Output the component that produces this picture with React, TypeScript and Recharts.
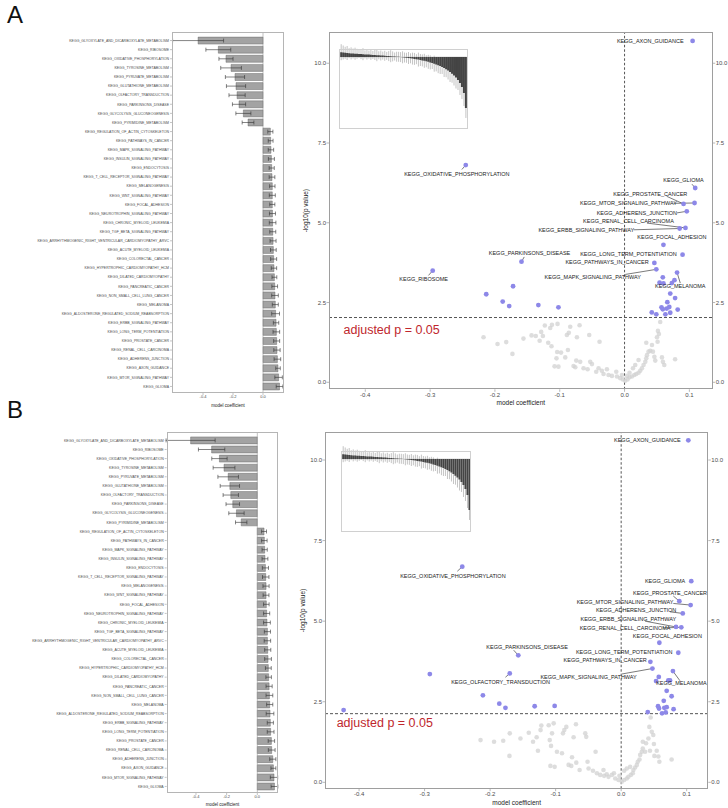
import React from "react";
import { BarChart, Bar, XAxis, YAxis, ErrorBar, ReferenceLine, ScatterChart, Scatter } from "recharts";

const FONT = "'Liberation Sans', Arial, Helvetica, sans-serif";

// pathways shown in the coefficient bar charts (top to bottom)
const pathways = [
  "KEGG_GLYOXYLATE_AND_DICARBOXYLATE_METABOLISM",
  "KEGG_RIBOSOME",
  "KEGG_OXIDATIVE_PHOSPHORYLATION",
  "KEGG_TYROSINE_METABOLISM",
  "KEGG_PYRUVATE_METABOLISM",
  "KEGG_GLUTATHIONE_METABOLISM",
  "KEGG_OLFACTORY_TRANSDUCTION",
  "KEGG_PARKINSONS_DISEASE",
  "KEGG_GLYCOLYSIS_GLUCONEOGENESIS",
  "KEGG_PYRIMIDINE_METABOLISM",
  "KEGG_REGULATION_OF_ACTIN_CYTOSKELETON",
  "KEGG_PATHWAYS_IN_CANCER",
  "KEGG_MAPK_SIGNALING_PATHWAY",
  "KEGG_INSULIN_SIGNALING_PATHWAY",
  "KEGG_ENDOCYTOSIS",
  "KEGG_T_CELL_RECEPTOR_SIGNALING_PATHWAY",
  "KEGG_MELANOGENESIS",
  "KEGG_WNT_SIGNALING_PATHWAY",
  "KEGG_FOCAL_ADHESION",
  "KEGG_NEUROTROPHIN_SIGNALING_PATHWAY",
  "KEGG_CHRONIC_MYELOID_LEUKEMIA",
  "KEGG_TGF_BETA_SIGNALING_PATHWAY",
  "KEGG_ARRHYTHMOGENIC_RIGHT_VENTRICULAR_CARDIOMYOPATHY_ARVC",
  "KEGG_ACUTE_MYELOID_LEUKEMIA",
  "KEGG_COLORECTAL_CANCER",
  "KEGG_HYPERTROPHIC_CARDIOMYOPATHY_HCM",
  "KEGG_DILATED_CARDIOMYOPATHY",
  "KEGG_PANCREATIC_CANCER",
  "KEGG_NON_SMALL_CELL_LUNG_CANCER",
  "KEGG_MELANOMA",
  "KEGG_ALDOSTERONE_REGULATED_SODIUM_REABSORPTION",
  "KEGG_ERBB_SIGNALING_PATHWAY",
  "KEGG_LONG_TERM_POTENTIATION",
  "KEGG_PROSTATE_CANCER",
  "KEGG_RENAL_CELL_CARCINOMA",
  "KEGG_ADHERENS_JUNCTION",
  "KEGG_AXON_GUIDANCE",
  "KEGG_MTOR_SIGNALING_PATHWAY",
  "KEGG_GLIOMA",
];

const coefA = [
  -0.433, -0.298, -0.247, -0.213, -0.187, -0.18, -0.173, -0.16, -0.131, -0.1,
  0.049, 0.051, 0.053, 0.056, 0.058, 0.06, 0.062, 0.062, 0.062, 0.063,
  0.064, 0.065, 0.067, 0.069, 0.071, 0.073, 0.076, 0.078, 0.08, 0.082,
  0.084, 0.087, 0.089, 0.091, 0.093, 0.096, 0.1, 0.104, 0.11,
];
const errA = [
  0.17, 0.083, 0.047, 0.069, 0.064, 0.064, 0.054, 0.044, 0.05, 0.039,
  0.017, 0.016, 0.018, 0.02, 0.017, 0.019, 0.018, 0.02, 0.017, 0.02,
  0.022, 0.02, 0.02, 0.019, 0.02, 0.018, 0.016, 0.019, 0.022, 0.02,
  0.026, 0.018, 0.022, 0.02, 0.021, 0.022, 0.015, 0.025, 0.022,
];
const coefB = [
  -0.435, -0.298, -0.247, -0.217, -0.19, -0.179, -0.173, -0.16, -0.136, -0.105,
  0.044, 0.046, 0.048, 0.05, 0.053, 0.055, 0.057, 0.057, 0.059, 0.061,
  0.063, 0.066, 0.066, 0.068, 0.07, 0.072, 0.074, 0.077, 0.079, 0.081,
  0.083, 0.085, 0.087, 0.092, 0.094, 0.101, 0.105, 0.109, 0.112,
];
const errB = [
  0.16, 0.086, 0.05, 0.071, 0.067, 0.063, 0.05, 0.044, 0.05, 0.037,
  0.016, 0.018, 0.017, 0.019, 0.02, 0.021, 0.02, 0.019, 0.018, 0.02,
  0.022, 0.02, 0.021, 0.02, 0.022, 0.019, 0.018, 0.02, 0.022, 0.02,
  0.025, 0.02, 0.022, 0.021, 0.022, 0.02, 0.016, 0.024, 0.022,
];

// inset: all pathways sorted (arbitrary units)
const insetCoef = [
  4.8, 4.5, 4.2, 4.0, 3.8, 3.6, 3.5, 3.3, 3.2, 3.0, 2.9, 2.8, 2.6, 2.5, 2.4, 2.2,
  2.1, 2.0, 1.8, 1.7, 1.5, 1.4, 1.2, 1.1, 0.9, 0.8, 0.6, 0.5, 0.3, 0.2, -0.1, -0.3,
  -0.5, -0.8, -1.0, -1.3, -1.6, -1.9, -2.2, -2.6, -3.0, -3.4, -3.8, -4.3, -4.8, -5.4,
  -6.0, -6.7, -7.4, -8.2, -9.0, -10.0, -11.0, -12.2, -13.5, -15.0, -16.7, -18.5,
  -20.5, -23.0, -26.0, -30.0, -36.0, -51.0,
];
const insetErr = [
  8, 7, 6, 7, 5, 6, 5, 6, 5, 4, 5, 6, 4, 5, 4, 5, 4, 5, 6, 4, 5, 4, 5, 4, 5, 6, 5, 4, 5, 5, 5, 6,
  5, 5, 6, 5, 6, 6, 5, 7, 6, 6, 7, 6, 7, 7, 6, 8, 7, 8, 8, 7, 9, 8, 9, 10, 9, 10, 11, 10, 12, 12,
  13, 10,
];

// volcano points [coefficient, -log10 p]
const blueA = [
  [0.105, 10.7], [-0.245, 6.81], [0.109, 6.09], [0.108, 5.62], [0.091, 5.59], [0.096, 5.36],
  [0.094, 4.84], [0.085, 4.82], [0.06, 4.31], [0.0895, 4.0], [0.046, 3.74], [0.049, 3.54],
  [0.081, 3.44], [0.059, 3.29], [0.054, 3.12], [0.06, 3.1], [0.073, 3.11], [0.077, 3.2],
  [0.0705, 2.78], [0.078, 2.64], [0.066, 2.51], [0.057, 2.35], [0.059, 2.29], [0.065, 2.31],
  [0.069, 2.36], [0.063, 2.13], [0.0705, 2.18], [0.082, 2.28], [0.042, 2.19], [0.049, 2.13],
  [-0.159, 3.78], [-0.296, 3.5], [-0.2134, 2.76], [-0.172, 3.01], [-0.188, 2.53], [-0.178, 2.39],
  [-0.133, 2.42], [-0.102, 2.35],
];
const grayA = [
  [-0.2176, 1.41], [-0.196, 1.2], [-0.1826, 1.26], [-0.173, 0.89], [-0.156, 1.37], [-0.1435, 1.47],
  [-0.137, 1.45], [-0.131, 1.3], [-0.1286, 1.58], [-0.123, 1.78], [-0.126, 1.45], [-0.1147, 1.7],
  [-0.112, 1.8], [-0.1034, 1.83], [-0.1178, 1.24], [-0.1127, 1.13], [-0.105, 0.75], [-0.104, 0.95],
  [-0.108, 0.5], [-0.102, 0.49], [-0.098, 0.93], [-0.0915, 0.78], [-0.089, 1.48], [-0.086, 1.55],
  [-0.0838, 1.74], [-0.0874, 1.01], [-0.0745, 0.68], [-0.0787, 0.51], [-0.076, 0.47], [-0.0694, 1.79],
  [-0.0735, 1.41], [-0.0684, 0.64], [-0.0633, 0.44], [-0.0545, 1.48], [-0.053, 0.64], [-0.0503, 0.57],
  [-0.057, 0.41], [-0.0437, 0.33], [-0.0386, 1.27], [-0.0401, 0.44], [-0.035, 0.36], [-0.0272, 0.41],
  [-0.0324, 0.26], [-0.0247, 0.23], [-0.0195, 0.2], [-0.0128, 0.33], [-0.0117, 0.18], [-0.0066, 0.13],
  [-0.0025, 0.09], [0.001, 0.05], [0.0046, 0.09], [0.0077, 0.16], [0.0114, 0.18], [0.015, 0.23],
  [0.018, 0.26], [0.0216, 0.3], [0.0242, 0.36], [0.0268, 0.44], [0.0293, 0.54], [0.032, 0.64],
  [0.0335, 0.75], [0.0346, 0.85], [0.037, 0.96], [0.0397, 0.99], [0.0423, 1.17], [0.0335, 1.24],
  [0.0438, 0.96], [0.046, 0.8], [0.0474, 0.68], [0.05, 1.41], [0.051, 1.27], [0.0515, 1.61],
  [0.055, 1.89], [0.053, 1.51], [0.0577, 0.78], [0.0592, 0.64], [0.0613, 0.54], [0.078, 0.72],
  [0.0216, 0.7], [0.0165, 0.54], [0.013, 0.44], [0.0077, 0.3], [0.0037, 0.2], [-0.004, 0.23],
];
const blueB = [
  [0.1025, 10.61], [-0.2425, 6.69], [0.107, 6.24], [0.0888, 5.62], [0.106, 5.5], [0.094, 5.24],
  [0.0918, 4.81], [0.0837, 4.82], [0.0583, 4.33], [0.0872, 4.02], [0.0446, 3.74], [0.0477, 3.53],
  [0.079, 3.45], [0.0574, 3.27], [0.0533, 3.14], [0.072, 3.16], [0.0746, 3.16], [0.0695, 2.84],
  [0.077, 2.67], [0.065, 2.53], [0.0563, 2.36], [0.0578, 2.29], [0.0659, 2.31], [0.0695, 2.33],
  [0.08, 2.27], [0.0624, 2.14], [0.068, 2.17], [0.0406, 2.18], [-0.4236, 2.24], [-0.292, 3.36],
  [-0.17, 3.38], [-0.157, 3.94], [-0.211, 2.7], [-0.186, 2.44], [-0.1766, 2.31], [-0.132, 2.36],
  [-0.1015, 2.37],
];
const grayB = [
  [-0.2146, 1.31], [-0.194, 1.26], [-0.18, 1.29], [-0.1705, 0.82], [-0.17, 1.52], [-0.1537, 1.36],
  [-0.141, 1.54], [-0.1345, 1.26], [-0.129, 1.4], [-0.127, 0.98], [-0.123, 1.62], [-0.1218, 1.76],
  [-0.1106, 1.77], [-0.103, 1.83], [-0.1055, 1.52], [-0.109, 1.31], [-0.107, 1.13], [-0.108, 0.51],
  [-0.1015, 0.48], [-0.098, 0.95], [-0.0903, 0.9], [-0.0888, 1.52], [-0.0868, 1.62], [-0.0837, 1.72],
  [-0.0802, 0.54], [-0.0761, 0.51], [-0.075, 0.78], [-0.0726, 1.4], [-0.069, 1.8], [-0.0685, 0.61],
  [-0.0634, 0.38], [-0.0548, 1.52], [-0.0533, 1.41], [-0.0513, 0.64], [-0.0497, 0.43], [-0.043, 0.36],
  [-0.039, 0.95], [-0.037, 0.28], [-0.032, 0.23], [-0.027, 0.38], [-0.026, 0.2], [-0.0193, 0.17],
  [-0.0142, 0.23], [-0.009, 0.12], [-0.004, 0.07], [0.001, 0.02], [0.0046, 0.07], [0.0086, 0.12],
  [0.011, 0.17], [0.0148, 0.23], [0.0178, 0.28], [0.0187, 0.38], [0.0213, 0.46], [0.0239, 0.54],
  [0.0254, 0.64], [0.028, 0.71], [0.029, 0.85], [0.0315, 0.95], [0.033, 1.05], [0.0365, 0.95],
  [0.033, 1.26], [0.038, 1.21], [0.0416, 1.36], [0.043, 1.72], [0.045, 2.01], [0.0467, 1.57],
  [0.049, 1.47], [0.05, 1.19], [0.0507, 0.82], [0.044, 0.98], [0.0543, 0.98], [0.0568, 0.8],
  [0.0583, 0.64], [0.077, 0.71], [0.0086, 0.43], [0.0046, 0.36], [0.0137, 0.48], [-0.0026, 0.2],
  [-0.011, 0.28], [-0.022, 0.25],
];

// repelled labels: text centre and optional leader segment [x1, y1, x2, y2]
const labelsA = [
  { t: "KEGG_AXON_GUIDANCE", x: 0.0397, y: 10.7 },
  { t: "KEGG_OXIDATIVE_PHOSPHORYLATION", x: -0.2587, y: 6.52, seg: [-0.251, 6.67, -0.245, 6.81] },
  { t: "KEGG_GLIOMA", x: 0.091, y: 6.35, seg: [0.104, 6.21, 0.109, 6.09] },
  { t: "KEGG_PROSTATE_CANCER", x: 0.0397, y: 5.89, seg: [0.065, 5.83, 0.091, 5.59] },
  { t: "KEGG_MTOR_SIGNALING_PATHWAY", x: 0.006, y: 5.61, seg: [0.0757, 5.61, 0.108, 5.62] },
  { t: "KEGG_ADHERENS_JUNCTION", x: 0.019, y: 5.31, seg: [0.081, 5.31, 0.096, 5.36] },
  { t: "KEGG_RENAL_CELL_CARCINOMA", x: 0.006, y: 5.04, seg: [0.0345, 4.99, 0.094, 4.84] },
  { t: "KEGG_ERBB_SIGNALING_PATHWAY", x: -0.059, y: 4.78, seg: [0.0139, 4.78, 0.085, 4.82] },
  { t: "KEGG_FOCAL_ADHESION", x: 0.073, y: 4.55 },
  { t: "KEGG_LONG_TERM_POTENTIATION", x: 0.006, y: 4.03 },
  { t: "KEGG_PATHWAYS_IN_CANCER", x: -0.027, y: 3.78 },
  { t: "KEGG_MAPK_SIGNALING_PATHWAY", x: -0.049, y: 3.29, seg: [0.001, 3.38, 0.049, 3.54] },
  { t: "KEGG_MELANOMA", x: 0.086, y: 3.01, seg: [0.086, 3.11, 0.081, 3.44] },
  { t: "KEGG_PARKINSONS_DISEASE", x: -0.1466, y: 4.05, seg: [-0.1548, 3.93, -0.159, 3.78] },
  { t: "KEGG_RIBOSOME", x: -0.31, y: 3.23, seg: [-0.3025, 3.35, -0.296, 3.5] },
];
const labelsB = [
  { t: "KEGG_AXON_GUIDANCE", x: 0.04, y: 10.61 },
  { t: "KEGG_OXIDATIVE_PHOSPHORYLATION", x: -0.2568, y: 6.41, seg: [-0.25, 6.55, -0.2425, 6.69] },
  { t: "KEGG_GLIOMA", x: 0.067, y: 6.24 },
  { t: "KEGG_PROSTATE_CANCER", x: 0.0746, y: 5.88, seg: [0.0796, 5.78, 0.0888, 5.62] },
  { t: "KEGG_MTOR_SIGNALING_PATHWAY", x: 0.006, y: 5.6, seg: [0.0796, 5.55, 0.106, 5.5] },
  { t: "KEGG_ADHERENS_JUNCTION", x: 0.0228, y: 5.34, seg: [0.0746, 5.29, 0.094, 5.24] },
  { t: "KEGG_ERBB_SIGNALING_PATHWAY", x: 0.011, y: 5.06, seg: [0.0365, 5.0, 0.0837, 4.82] },
  { t: "KEGG_RENAL_CELL_CARCINOMA", x: 0.006, y: 4.79, seg: [0.064, 4.79, 0.0918, 4.81] },
  { t: "KEGG_FOCAL_ADHESION", x: 0.0705, y: 4.55 },
  { t: "KEGG_LONG_TERM_POTENTIATION", x: 0.0046, y: 4.05 },
  { t: "KEGG_PATHWAYS_IN_CANCER", x: -0.0244, y: 3.79 },
  { t: "KEGG_MAPK_SIGNALING_PATHWAY", x: -0.0497, y: 3.26, seg: [0.001, 3.36, 0.0477, 3.53] },
  { t: "KEGG_MELANOMA", x: 0.092, y: 3.07, seg: [0.0898, 3.15, 0.079, 3.45] },
  { t: "KEGG_PARKINSONS_DISEASE", x: -0.1436, y: 4.2, seg: [-0.164, 4.1, -0.157, 3.94] },
  { t: "KEGG_OLFACTORY_TRANSDUCTION", x: -0.184, y: 3.1, seg: [-0.1766, 3.26, -0.17, 3.38] },
];

const xTicks = [-0.4, -0.3, -0.2, -0.1, 0, 0.1];
const yTicks = [0, 2.5, 5, 7.5, 10];
const barTicks = [-0.4, -0.2, 0];

const fmt1 = (v: number) => (Math.abs(v) < 1e-9 ? "0.0" : v.toFixed(1));

const Frame = ({ l, t, w, h, c }: any) => (
  <div
    style={{
      position: "absolute", left: l, top: t, width: w, height: h,
      border: `1px solid ${c}`, boxSizing: "border-box", pointerEvents: "none",
    }}
  />
);

const CoefBars = ({ left, top, width, height, margin, yw, xh, domain, coef, err, pad }: any) => {
  const data = pathways.map((name, i) => ({ name, coef: coef[i], err: err[i] }));
  return (
    <div style={{ position: "absolute", left, top }}>
      <BarChart layout="vertical" width={width} height={height} data={data} margin={margin} barCategoryGap="12%">
        <XAxis
          type="number"
          domain={domain}
          allowDataOverflow
          ticks={barTicks}
          tickFormatter={fmt1}
          tick={{ fontSize: 4, fill: "#4d4d4d", fontFamily: FONT }}
          tickSize={2}
          tickMargin={0.5}
          tickLine={{ stroke: "#888", strokeWidth: 0.5 }}
          axisLine={false}
          height={xh}
          label={{ value: "model coefficient", position: "insideBottom", offset: 0, fontSize: 4.5, fill: "#222", fontFamily: FONT }}
        />
        <YAxis
          type="category"
          dataKey="name"
          width={yw}
          interval={0}
          tick={{ fontSize: 3.5, fill: "#4d4d4d", fontFamily: FONT }}
          tickSize={2}
          tickMargin={1}
          tickLine={{ stroke: "#888", strokeWidth: 0.5 }}
          axisLine={false}
          padding={pad}
        />
        <ReferenceLine x={0} stroke="#999" strokeWidth={0.6} />
        <Bar dataKey="coef" fill="#a3a3a3" stroke="#555" strokeWidth={0.4} isAnimationActive={false}>
          <ErrorBar dataKey="err" direction="x" width={2} stroke="#333" strokeWidth={0.6} />
        </Bar>
      </BarChart>
    </div>
  );
};

// inset drawn as two stacked layers so the light error bars sit behind the dark bars
const Inset = ({ left, top, width, height, domain }: any) => {
  const data = insetCoef.map((v, i) => ({ i, v, e: insetErr[i] }));
  const layer = (withErr: boolean) => (
    <div style={{ position: "absolute", left, top }}>
      <BarChart width={width} height={height} data={data} margin={{ top: 0, right: 0, bottom: 0, left: 0 }} barCategoryGap="10%">
        <XAxis dataKey="i" hide />
        <YAxis hide domain={domain} allowDataOverflow />
        {withErr ? <ReferenceLine y={0} stroke="#cfcfcf" strokeWidth={0.8} /> : null}
        <Bar dataKey="v" fill={withErr ? "transparent" : "#444"} isAnimationActive={false}>
          {withErr ? <ErrorBar dataKey="e" width={0} stroke="#c4c4c4" strokeWidth={1} /> : null}
        </Bar>
      </BarChart>
    </div>
  );
  return (
    <>
      {layer(true)}
      {layer(false)}
    </>
  );
};

const grayDot = (p: any) => <circle cx={p.cx} cy={p.cy} r={2.3} fill="#d2d2d2" fillOpacity={0.75} />;
const blueDot = (p: any) => <circle cx={p.cx} cy={p.cy} r={2.4} fill="#8d88e8" />;
const labelText = (p: any) => (
  <text x={p.cx} y={p.cy} textAnchor="middle" dominantBaseline="central" fontSize={5.5} fill="#1a1a1a" fontFamily={FONT}>
    {p.payload.t}
  </text>
);
const noteText = (p: any) => (
  <text x={p.cx} y={p.cy} textAnchor="start" dominantBaseline="central" fontSize={12.5} fill="#c0272d" fontFamily={FONT}>
    {p.payload.t}
  </text>
);

const Volcano = ({ left, top, width, height, margin, lw, rw, xh, xd, yd, gray, blue, labels, thr, note, titleOffset }: any) => {
  const g = gray.map(([x, y]: number[]) => ({ x, y }));
  const b = blue.map(([x, y]: number[]) => ({ x, y }));
  const tickStyle = { fontSize: 6, fill: "#4d4d4d", fontFamily: FONT };
  return (
    <div style={{ position: "absolute", left, top }}>
      <ScatterChart width={width} height={height} margin={margin}>
        <XAxis
          type="number"
          dataKey="x"
          domain={xd}
          allowDataOverflow
          ticks={xTicks}
          tickFormatter={fmt1}
          tick={tickStyle}
          tickSize={2.5}
          tickMargin={0.5}
          tickLine={{ stroke: "#888", strokeWidth: 0.6 }}
          axisLine={false}
          height={xh}
          label={{ value: "model coefficient", position: "insideBottom", offset: 0, fontSize: 6.5, fill: "#222", fontFamily: FONT }}
        />
        <YAxis
          yAxisId="l"
          type="number"
          dataKey="y"
          domain={yd}
          allowDataOverflow
          ticks={yTicks}
          tickFormatter={fmt1}
          tick={tickStyle}
          tickSize={2.5}
          tickMargin={0.5}
          tickLine={{ stroke: "#888", strokeWidth: 0.6 }}
          axisLine={false}
          width={lw}
          label={{ value: "-log10(p value)", angle: -90, position: "insideLeft", offset: titleOffset, fontSize: 6.5, fill: "#222", fontFamily: FONT, style: { textAnchor: "middle" } }}
        />
        <YAxis
          yAxisId="r"
          orientation="right"
          type="number"
          domain={yd}
          allowDataOverflow
          ticks={yTicks}
          tickFormatter={fmt1}
          tick={tickStyle}
          tickSize={2.5}
          tickMargin={0.5}
          tickLine={{ stroke: "#888", strokeWidth: 0.6 }}
          axisLine={false}
          width={rw}
        />
        <ReferenceLine yAxisId="l" x={0} stroke="#555" strokeWidth={1} strokeDasharray="2.5 2" />
        <ReferenceLine yAxisId="l" y={thr} stroke="#555" strokeWidth={1} strokeDasharray="3 2" />
        <Scatter yAxisId="l" data={g} shape={grayDot} isAnimationActive={false} />
        <Scatter yAxisId="l" data={b} shape={blueDot} isAnimationActive={false} />
        {labels
          .filter((l: any) => l.seg)
          .map((l: any) => (
            <ReferenceLine
              key={l.t}
              yAxisId="l"
              segment={[{ x: l.seg[0], y: l.seg[1] }, { x: l.seg[2], y: l.seg[3] }]}
              stroke="#222"
              strokeWidth={0.6}
            />
          ))}
        <Scatter yAxisId="l" data={labels} shape={labelText} isAnimationActive={false} />
        <Scatter yAxisId="l" data={[note]} shape={noteText} isAnimationActive={false} />
      </ScatterChart>
    </div>
  );
};

const PanelLetter = ({ t, top }: any) => (
  <div style={{ position: "absolute", left: 7, top, fontFamily: FONT, fontSize: 24, lineHeight: "24px", color: "#111" }}>{t}</div>
);

export default function App() {
  return (
    <div style={{ position: "absolute", left: 0, top: 0, width: 728, height: 808, background: "#fff", overflow: "hidden", fontFamily: FONT }}>
      <PanelLetter t="A" top={3} />
      <PanelLetter t="B" top={398} />

      <CoefBars
        left={0} top={0} width={290} height={410}
        margin={{ top: 32, right: 6, bottom: 3, left: 0 }}
        yw={172} xh={14} domain={[-0.607, 0.14]}
        coef={coefA} err={errA} pad={{ top: 4, bottom: 2 }}
      />
      <Frame l={172} t={32} w={112} h={361} c="#b5b5b5" />

      <Volcano
        left={290} top={0} width={438} height={410}
        margin={{ top: 32, right: 0, bottom: 4.7, left: 0 }}
        lw={39} rw={15.3} xh={16}
        xd={[-0.456, 0.136]} yd={[-0.22, 10.98]}
        gray={grayA} blue={blueA} labels={labelsA} thr={2.03}
        note={{ t: "adjusted p = 0.05", x: -0.4336, y: 1.63 }}
        titleOffset={16}
      />
      <Frame l={329} t={32} w={383.7} h={357.3} c="#9e9e9e" />
      <Inset left={340} top={36.7} width={126.7} height={92.3} domain={[-72.3, 20]} />
      <Frame l={339} t={49} w={129.3} h={80} c="#d0d0d0" />

      <CoefBars
        left={0} top={400} width={290} height={408}
        margin={{ top: 32.3, right: 11.7, bottom: 2, left: 0 }}
        yw={166.7} xh={13} domain={[-0.591, 0.137]}
        coef={coefB} err={errB} pad={{ top: 3.5, bottom: 2 }}
      />
      <Frame l={166.7} t={432.3} w={111.6} h={360.7} c="#b5b5b5" />

      <Volcano
        left={290} top={400} width={438} height={408}
        margin={{ top: 32.3, right: 0, bottom: 3.3, left: 0 }}
        lw={35} rw={19.7} xh={16}
        xd={[-0.452, 0.133]} yd={[-0.198, 10.86]}
        gray={grayB} blue={blueB} labels={labelsB} thr={2.13}
        note={{ t: "adjusted p = 0.05", x: -0.4342, y: 1.85 }}
        titleOffset={13}
      />
      <Frame l={325} t={432.3} w={383.3} h={356.4} c="#9e9e9e" />
      <Inset left={341.7} top={438.7} width={128.3} height={93} domain={[-73, 20]} />
      <Frame l={341} t={450.7} w={129.7} h={81} c="#d0d0d0" />
    </div>
  );
}
